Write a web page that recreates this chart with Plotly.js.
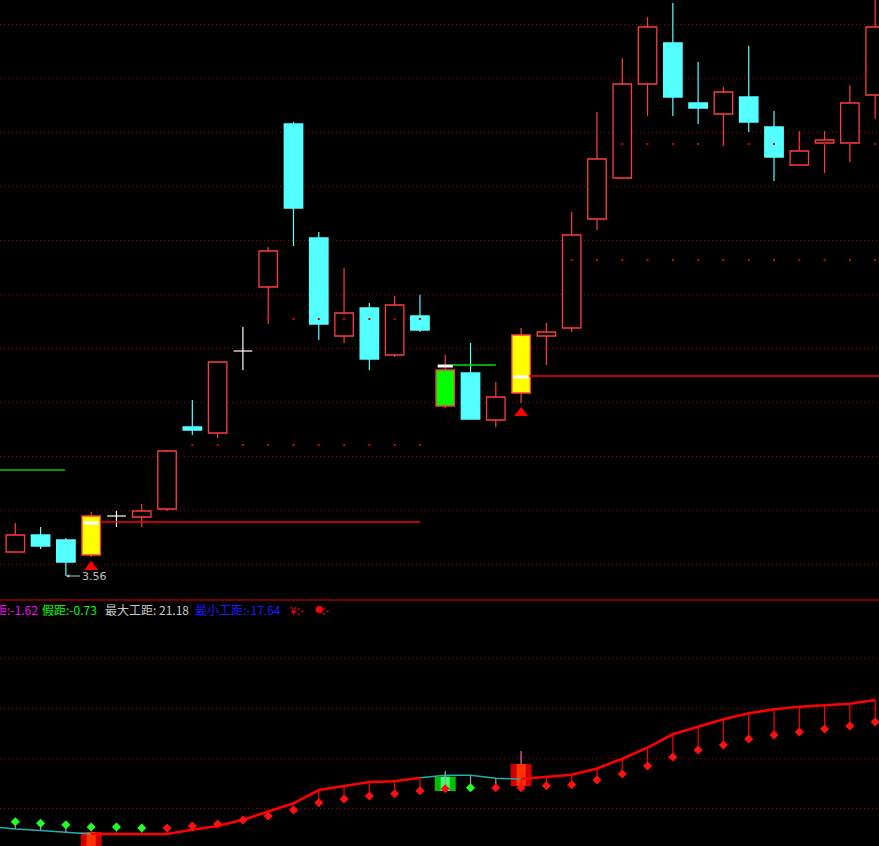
<!DOCTYPE html>
<html><head><meta charset="utf-8">
<script src="https://cdn.plot.ly/plotly-3.0.1.min.js"></script>
<style>html,body{margin:0;padding:0;background:#000;overflow:hidden}#chart{width:879px;height:846px}</style>
</head><body><div id="chart"></div>
<script>
// ---------- price panel data ----------
const days   = [0,1,2,3,4,5,6,7,8,9,10,11,12,13,14,15,16,17,18,19,20,21,22,23,24,25,26,27,28,29,30,31,32,33,34];
const opens  = [3.80,3.97,3.92,3.77,4.16,4.15,4.23,5.05,4.99,5.81,6.45,8.08,6.94,5.96,6.24,5.77,6.16,5.26,5.59,5.12,5.39,5.96,6.04,7.13,7.54,8.48,8.89,8.29,8.18,8.35,8.05,7.67,7.89,7.89,8.37];
const highs  = [4.09,4.05,3.94,4.20,4.21,4.28,4.82,5.32,5.70,6.05,6.85,8.10,7.00,6.64,6.29,6.36,6.37,5.77,5.89,5.50,6.04,6.09,7.20,8.20,8.74,9.15,9.29,8.70,8.45,8.86,8.21,8.01,8.01,8.47,9.37];
const lows   = [3.80,3.83,3.56,3.75,4.05,4.05,4.21,4.97,4.94,5.62,6.08,6.86,5.92,5.89,5.62,5.75,6.00,5.24,5.13,5.05,5.29,5.67,6.00,7.02,7.54,8.16,8.16,8.08,7.86,8.00,7.51,7.67,7.59,7.70,8.13];
const closes = [3.97,3.86,3.70,4.16,4.16,4.21,4.81,5.02,5.70,5.81,6.81,7.24,6.08,6.19,5.73,6.27,6.02,5.62,5.13,5.35,5.97,6.00,6.97,7.73,8.48,9.05,8.35,8.24,8.40,8.10,7.75,7.81,7.92,8.29,9.05];

// highlighted signal candles
const specialIdx  = [3, 17, 20];
const specialFill = ['#ffff00', '#00ff00', '#ffff00'];
const markPrice   = [4.09, 5.66, 5.55];      // white mark on signal candles
const signalIdx   = [3, 20];                 // red triangles under candle
const lowLabelIdx = 2;                       // "3.56" label

// horizontal level lines
const levelPrice = [4.62, 4.10, 5.67, 5.56];
const levelFrom  = [-1, 3.35, 17.3, 20.3];
const levelTo    = [1.97, 16, 19, 35];
const levelColor = ['#00c800', '#ff0000', '#00e000', '#ff0000'];

// dotted levels
const dotPrice = [4.87, 6.13, 6.72, 7.88];
const dotFrom  = [7, 10, 22, 23];
const dotTo    = [16, 16, 34, 34];

// price grid
const priceGrid = [3.68, 4.22, 4.76, 5.30, 5.84, 6.38, 6.92, 7.46, 8.00, 8.54, 9.08];

// ---------- indicator panel data ----------
const indDays   = [-1,0,1,2,3,4,5,6,7,8,9,10,11,12,13,14,15,16,17,18,19,20,21,22,23,24,25,26,27,28,29,30,31,32,33,34];
const lineVals  = [-13.7,-14.2,-14.5,-14.86,-15.2,-15.2,-15.2,-15.2,-14.36,-13.6,-12.36,-10.7,-9.06,-6.4,-5.6,-4.8,-4.66,-3.94,-3.46,-3.46,-4.06,-4.2,-3.8,-3.34,-2.1,-0.14,2.06,4.74,6.26,7.74,8.94,9.74,10.26,10.54,10.86,11.6];
const tealIdx   = [-1,0,1,2,17,18,19];
const markerVals= [-12.74,-13.06,-13.34,-13.8,-13.8,-14.0,-14.0,-13.6,-13.2,-12.4,-11.6,-10.4,-8.94,-8.2,-7.6,-7.14,-6.54,-6.14,-5.94,-5.94,-5.94,-5.54,-5.34,-4.4,-3.2,-1.6,0.2,1.6,2.6,3.8,4.6,5.2,5.8,6.4,7.2];
const greenDots = [0,1,2,3,4,5,18];
const boxIdx    = [3, 17, 20];
const boxHigh   = [-14.8, -3.74, -1.2];
const boxLow    = [-18, -6.6, -5.6];
const boxWick   = [-14.8, -2.6, 1.4];
const boxTone   = ['red', 'green', 'red'];
const indGrid   = [-10, 0, 10, 20];

const labels = [
  {text:'真距:-1.62',      color:'#ff00ff', px:-19, size:12},
  {text:'假距:-0.73',      color:'#00ff00', px:40,  size:12},
  {text:'最大工距: 21.18', color:'#c8c8c8', px:103, size:12},
  {text:'最小工距:-17.64', color:'#1a1aff', px:193, size:12},
  {text:'¥:-',             color:'#ff0000', px:288, size:12},
  {text:'●',               color:'#ff0000', px:313, size:8},
  {text:':-',              color:'#ff0000', px:320, size:12}
];

// ---------- build ----------
const RED='#ff3c3c', CYAN='#54ffff', WHITE='#ffffff';
const W=879, H=846;
const X0=-0.605, X1=X0+W/25.29;
const split=246/H;
const traces=[];
function seg(o,x0,y0,x1,y1){o.x.push(x0,x1,null);o.y.push(y0,y1,null);}

const wR={x:[],y:[]}, wC={x:[],y:[]}, wW={x:[],y:[]};
const bx=[],bb=[],bh=[],bf=[],bl=[];
days.forEach(i=>{
  const o=opens[i], c=closes[i], top=Math.max(o,c), bot=Math.min(o,c);
  const sp=specialIdx.indexOf(i);
  const kind = c>o?'up':(c<o?'down':'doji');
  if(kind==='doji' && sp<0){
    seg(wW,i,highs[i],i,lows[i]); seg(wW,i-0.37,o,i+0.37,o); return;
  }
  const tgt = (kind==='down' && sp<0) ? wC : wR;
  if(highs[i]>top) seg(tgt,i,highs[i],i,top);
  if(lows[i]<bot) seg(tgt,i,bot,i,lows[i]);
  bx.push(i); bb.push(bot); bh.push(top-bot);
  if(sp>=0){bf.push(specialFill[sp]); bl.push(RED);}
  else if(kind==='up'){bf.push('#000000'); bl.push(RED);}
  else {bf.push(CYAN); bl.push(CYAN);}
});
traces.push({type:'bar',x:bx,y:bh,base:bb,width:0.73,xaxis:'x',yaxis:'y',
  marker:{color:bf,line:{color:bl,width:1.3}},hoverinfo:'skip'});
[[wR,RED],[wC,CYAN],[wW,WHITE]].forEach(([o,col])=>traces.push({type:'scatter',mode:'lines',x:o.x,y:o.y,
  line:{color:col,width:1.2},xaxis:'x',yaxis:'y',hoverinfo:'skip'}));

// level lines
levelPrice.forEach((p,k)=>traces.push({type:'scatter',mode:'lines',x:[levelFrom[k],levelTo[k]],y:[p,p],
  line:{color:levelColor[k],width:1.5},xaxis:'x',yaxis:'y',hoverinfo:'skip'}));
// white marks
const wm={x:[],y:[]};
specialIdx.forEach((i,k)=>seg(wm,i-0.3,markPrice[k],i+0.3,markPrice[k]));
traces.push({type:'scatter',mode:'lines',x:wm.x,y:wm.y,line:{color:WHITE,width:3},xaxis:'x',yaxis:'y',hoverinfo:'skip'});
// dotted levels
const dx=[],dy=[];
dotPrice.forEach((p,k)=>{for(let i=dotFrom[k];i<=dotTo[k];i++){dx.push(i);dy.push(p);}});
traces.push({type:'scatter',mode:'markers',x:dx,y:dy,marker:{symbol:'square',size:2,color:'#e00000'},xaxis:'x',yaxis:'y',hoverinfo:'skip'});
// triangles
traces.push({type:'scatter',mode:'markers',x:signalIdx,y:signalIdx.map(i=>lows[i]-0.1),
  marker:{symbol:'triangle-up',size:12,color:'#ff0000'},xaxis:'x',yaxis:'y',hoverinfo:'skip'});

// ---------- indicator panel ----------
const outerCol={red:'#cc0000',green:'#00c000'}, innerCol={red:'#ff3300',green:'#40ff70'}, wickCol={red:'#ff6699',green:'#a0b0a0'};
traces.push({type:'bar',x:boxIdx,base:boxLow,y:boxIdx.map((_,k)=>boxHigh[k]-boxLow[k]),width:0.83,
  marker:{color:boxTone.map(t=>outerCol[t]),line:{width:0}},xaxis:'x',yaxis:'y2',hoverinfo:'skip'});
traces.push({type:'bar',x:boxIdx,base:boxLow,y:boxIdx.map((_,k)=>boxHigh[k]-boxLow[k]),width:0.36,
  marker:{color:boxTone.map(t=>innerCol[t]),line:{width:0}},xaxis:'x',yaxis:'y2',hoverinfo:'skip'});
boxIdx.forEach((i,k)=>{ if(boxWick[k]>boxHigh[k]) traces.push({type:'scatter',mode:'lines',x:[i,i],y:[boxHigh[k],boxWick[k]],
  line:{color:wickCol[boxTone[k]],width:1.2},xaxis:'x',yaxis:'y2',hoverinfo:'skip'});});

const tealSet=new Set(tealIdx);
const runs={teal:{x:[],y:[]},red:{x:[],y:[]}};
let cur=null;
for(let j=0;j<indDays.length-1;j++){
  const a=indDays[j], b=indDays[j+1];
  const c=(tealSet.has(a)||tealSet.has(b))?'teal':'red';
  if(cur!==c){ if(runs[c].x.length){runs[c].x.push(null);runs[c].y.push(null);} runs[c].x.push(a); runs[c].y.push(lineVals[j]); cur=c; }
  runs[c].x.push(b); runs[c].y.push(lineVals[j+1]);
}
traces.push({type:'scatter',mode:'lines',x:runs.teal.x,y:runs.teal.y,line:{color:'#1fb0b0',width:1.4},xaxis:'x',yaxis:'y2',hoverinfo:'skip'});
traces.push({type:'scatter',mode:'lines',x:runs.red.x,y:runs.red.y,line:{color:'#ff0000',width:2.6},xaxis:'x',yaxis:'y2',hoverinfo:'skip'});

const sG={x:[],y:[]}, sR={x:[],y:[]};
days.forEach(i=>{ const lv=lineVals[indDays.indexOf(i)]; seg(tealSet.has(i)?sG:sR,i,markerVals[i],i,lv); });
traces.push({type:'scatter',mode:'lines',x:sG.x,y:sG.y,line:{color:'#a0a0a0',width:1.2},xaxis:'x',yaxis:'y2',hoverinfo:'skip'});
traces.push({type:'scatter',mode:'lines',x:sR.x,y:sR.y,line:{color:'#ff0000',width:1.2},xaxis:'x',yaxis:'y2',hoverinfo:'skip'});
traces.push({type:'scatter',mode:'markers',x:days,y:markerVals,
  marker:{symbol:'diamond',size:7,color:days.map(i=>greenDots.includes(i)?'#22ff22':'#ff1010'),line:{width:0}},xaxis:'x',yaxis:'y2',hoverinfo:'skip'});

// ---------- layout ----------
const annotations=labels.map(l=>({xref:'paper',yref:'paper',x:l.px/W,y:(H-609)/H,xanchor:'left',yanchor:'middle',
  text:l.text,showarrow:false,font:{family:'Noto Sans CJK SC',size:l.size,color:l.color}}));
annotations.push({xref:'x',yref:'y',x:lowLabelIdx,y:lows[lowLabelIdx],ax:14,ay:0,xanchor:'left',yanchor:'middle',
  text:lows[lowLabelIdx].toFixed(2),showarrow:true,arrowhead:2,arrowsize:0.7,arrowwidth:1,arrowcolor:'#c0c0c0',
  font:{family:'DejaVu Sans',size:11,color:'#c0c0c0'}});

const layout={
  width:W,height:H,margin:{l:0,r:0,t:0,b:0},paper_bgcolor:'#000',plot_bgcolor:'#000',
  showlegend:false,barmode:'overlay',
  xaxis:{range:[X0,X1],showgrid:false,zeroline:false,showticklabels:false,ticks:'',showline:false,fixedrange:true},
  yaxis:{domain:[split,1],range:[3.32,9.32],tickvals:priceGrid,showticklabels:false,ticks:'',zeroline:false,showline:false,
    showgrid:true,gridcolor:'#a00000',gridwidth:1,griddash:'1px,3px',fixedrange:true},
  yaxis2:{domain:[0,split],range:[-17.6,31.6],tickvals:indGrid,showticklabels:false,ticks:'',zeroline:false,showline:false,
    showgrid:true,gridcolor:'#a00000',gridwidth:1,griddash:'1px,3px',anchor:'x',fixedrange:true},
  shapes:[{type:'line',xref:'paper',yref:'paper',x0:0,x1:1,y0:split,y1:split,line:{color:'#e00000',width:1}}],
  annotations
};
Plotly.newPlot('chart',traces,layout,{staticPlot:true,displayModeBar:false});
</script></body></html>
